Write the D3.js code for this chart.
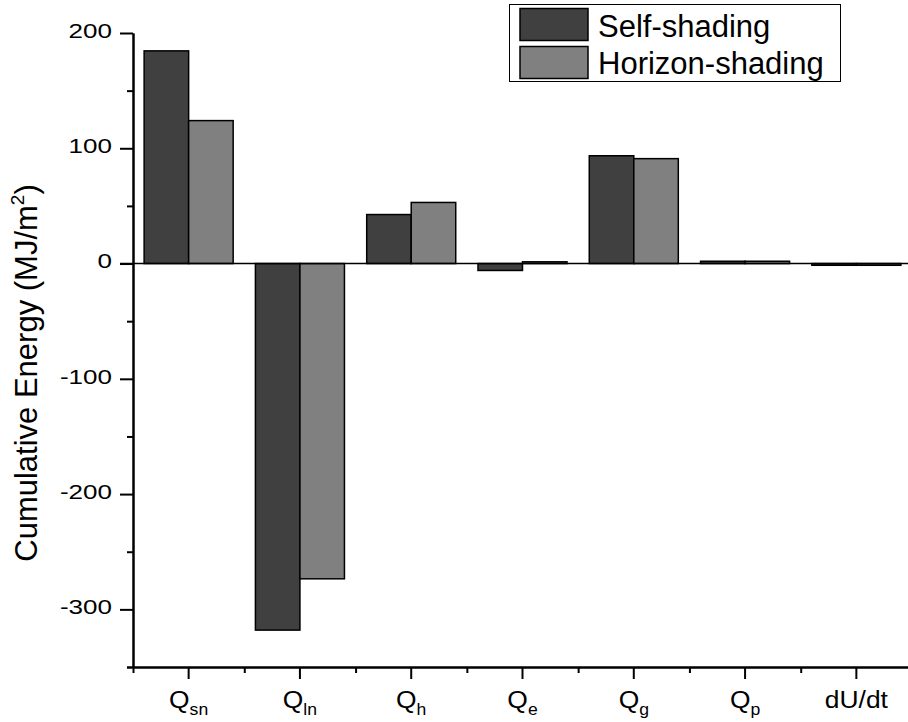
<!DOCTYPE html>
<html>
<head>
<meta charset="utf-8">
<script src="https://cdn.jsdelivr.net/npm/d3@7"></script>
<style>
  body { margin: 0; background: #fff; }
  svg { display: block; font-family: "Liberation Sans", Arial, sans-serif; }
</style>
</head>
<body>
<svg id="chart"></svg>
<script>
// chart data
const categories = ["Qsn", "Qln", "Qh", "Qe", "Qg", "Qp", "dU/dt"];
const labelMain = ["Q", "Q", "Q", "Q", "Q", "Q", "dU/dt"];
const labelSub = ["sn", "ln", "h", "e", "g", "p", ""];
const seriesNames = ["Self-shading", "Horizon-shading"];
const selfShading = [184.5, -318, 42.5, -6, 93.5, 2, -1.5];
const horizonShading = [124, -273.5, 53, 1.5, 91, 2, -1.5];
const yTicks = [-300, -200, -100, 0, 100, 200];
const yMinorTicks = [-350, -250, -150, -50, 50, 150];
const colors = ["#404040", "#808080"];

const width = 908, height = 722;
const plotLeft = 133, plotRight = 912, plotTop = 33, plotBottom = 667;

const svg = d3.select("#chart").attr("width", width).attr("height", height);

const rows = categories.map((c, i) => ({ cat: c, values: [selfShading[i], horizonShading[i]] }));

// scales
const x0 = d3.scaleBand().domain(categories).range([plotLeft, plotRight])
  .paddingInner(0.2).paddingOuter(0.1);
const x1 = d3.scaleBand().domain(seriesNames).range([0, x0.bandwidth()]);
const y = d3.scaleLinear().domain([-350, 200]).range([plotBottom, plotTop]);
const xMinor = d3.scaleLinear().domain([0, categories.length]).range([plotLeft, plotRight]);

// bars
svg.append("g")
  .selectAll("g")
  .data(rows)
  .join("g")
  .attr("transform", d => `translate(${x0(d.cat)},0)`)
  .selectAll("rect")
  .data(d => d.values.map((v, k) => ({ v, k })))
  .join("rect")
  .attr("x", d => x1(seriesNames[d.k]))
  .attr("width", x1.bandwidth())
  .attr("y", d => y(Math.max(0, d.v)))
  .attr("height", d => Math.abs(y(d.v) - y(0)))
  .attr("fill", d => colors[d.k])
  .attr("stroke", "#000")
  .attr("stroke-width", 1.5);

// zero line
svg.append("line")
  .attr("x1", plotLeft - 13).attr("x2", width)
  .attr("y1", y(0)).attr("y2", y(0))
  .attr("stroke", "#000").attr("stroke-width", 1.5);

// y axis
const yAxis = svg.append("g")
  .attr("transform", `translate(${plotLeft},0)`)
  .call(d3.axisLeft(y).tickValues(yTicks).tickSize(13).tickPadding(8).tickSizeOuter(0)
    .tickFormat(d => String(d)));
yAxis.append("g")
  .call(d3.axisLeft(y).tickValues(yMinorTicks).tickSize(6).tickFormat("").tickSizeOuter(0));

const ySx = 1.24;
yAxis.selectAll(".tick text")
  .attr("font-size", 21)
  .attr("fill", "#000")
  .attr("x", -21 / ySx)
  .attr("dy", "0.2em")
  .attr("transform", `scale(${ySx},1)`);

// x axis
const xAxis = svg.append("g")
  .attr("transform", `translate(0,${plotBottom})`)
  .call(d3.axisBottom(x0).tickSize(12).tickFormat("").tickSizeOuter(0));
xAxis.append("g")
  .call(d3.axisBottom(xMinor).ticks(categories.length).tickSize(6).tickFormat("").tickSizeOuter(0));
xAxis.select(".domain").attr("d", `M${plotLeft - 6},0.5H${width}`);

const xSx = 1.1;
xAxis.selectAll(":scope > .tick")
  .append("text")
  .attr("y", 41)
  .attr("text-anchor", "middle")
  .attr("fill", "#000")
  .attr("font-size", 24)
  .attr("transform", `scale(${xSx},1)`)
  .each(function (d, i) {
    const t = d3.select(this);
    t.append("tspan").text(labelMain[i]);
    if (labelSub[i]) t.append("tspan").attr("font-size", 16).attr("dy", 7).text(labelSub[i]);
  });

svg.selectAll(".domain, .tick line").attr("stroke", "#000").attr("stroke-width", 2);

// y axis title
const title = svg.append("text")
  .attr("transform", "translate(37,373) rotate(-90)")
  .attr("text-anchor", "middle")
  .attr("font-size", 31)
  .attr("fill", "#000");
title.append("tspan").text("Cumulative Energy (MJ/m");
title.append("tspan").attr("font-size", 19).attr("dy", -13).text("2");
title.append("tspan").attr("dy", 13).text(")");

// legend
const legend = svg.append("g");
legend.append("rect")
  .attr("x", 509.5).attr("y", 4.5).attr("width", 331).attr("height", 77)
  .attr("fill", "#fff").attr("stroke", "#000").attr("stroke-width", 1);
seriesNames.forEach((name, k) => {
  legend.append("rect")
    .attr("x", 520).attr("y", 8.5 + k * 38).attr("width", 68).attr("height", 32)
    .attr("fill", colors[k]).attr("stroke", "#000").attr("stroke-width", 1.5);
  legend.append("text")
    .attr("x", 598).attr("y", 36.5 + k * 37.5)
    .attr("font-size", 31).attr("fill", "#000")
    .text(name);
});
</script>
</body>
</html>
